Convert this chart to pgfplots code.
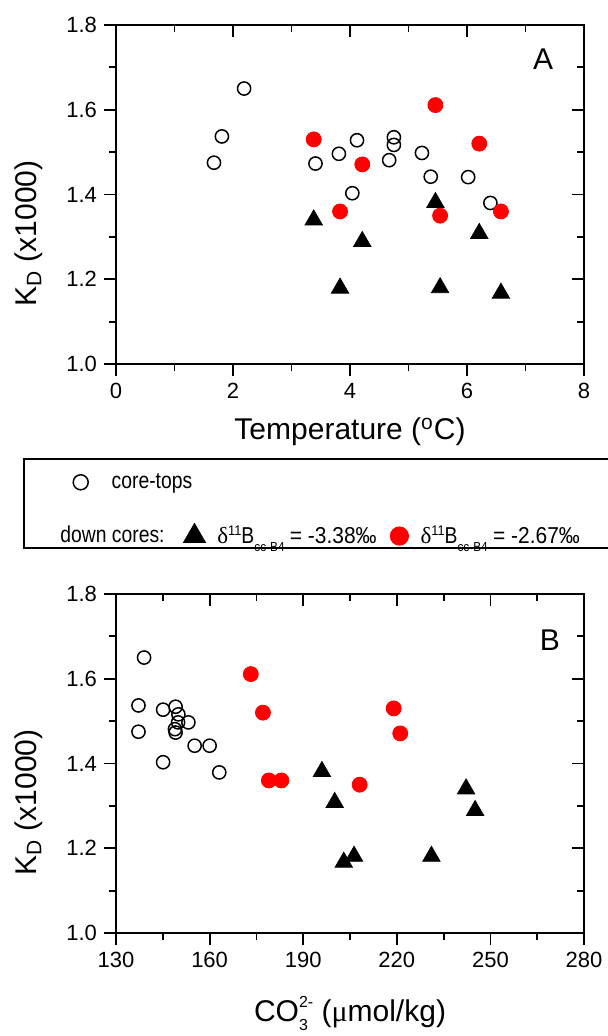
\documentclass[border=0pt]{standalone}
\usepackage{pgfplots}
\pgfplotsset{compat=1.18}
\usepackage{fontspec}
\setmainfont{Liberation Sans}
\newfontfamily\greekserif{Liberation Serif}
\newfontfamily\narrowsans[FakeStretch=0.84]{Liberation Sans}
\newfontfamily\plainsans[FakeStretch=0.91]{Liberation Sans}

\definecolor{dcred}{RGB}{255,0,0}

% delta-11B symbol used in the key
\newcommand\deltaB{{\greekserif\fontsize{11.5}{13}\selectfont δ}\raisebox{4.2pt}{\plainsans\fontsize{7}{8}\selectfont 11}B\raisebox{-4.2pt}{\plainsans\fontsize{6.5}{7}\selectfont cc-B4}}
\newcommand\plainpart[1]{{\plainsans #1}}

\pgfplotsset{
  panel/.style={
    scale only axis, width=234pt, height=169.5pt,
    ymin=1.0, ymax=1.8,
    ytick={1.0,1.2,1.4,1.6,1.8},
    minor ytick={1.1,1.3,1.5,1.7},
    axis line style={line width=0.9pt},
    every tick/.style={line width=0.9pt, black},
    major tick length=6pt, minor tick length=3.5pt,
    tick label style={font=\fontsize{11}{13}\selectfont},
    /pgf/number format/assume math mode=true,
    clip=false,
  },
  lowerticks/.style={panel, tick pos=left, tick align=outside,
    yticklabel style={/pgf/number format/fixed, /pgf/number format/fixed zerofill, /pgf/number format/precision=1},
    label style={font=\fontsize{15}{18}\selectfont},
  },
  upperticks/.style={panel, tick pos=right, tick align=inside,
    xticklabels={}, yticklabels={}},
  dotlegend/.style={legend image code/.code={\draw[##1] plot coordinates {(0pt,0pt)};}},
  coretop/.style={only marks, mark=o, mark size=3.3pt, mark options={line width=0.75pt, fill=white, draw=black}},
  lowdelta/.style={only marks, mark=triangle*, mark size=5pt, black},
  highdelta/.style={only marks, mark=*, mark size=3.75pt, dcred},
  legfont/.style={font=\narrowsans\fontsize{11.5}{13}\selectfont},
}

\begin{document}
\begin{tikzpicture}
\useasboundingbox (0,0) rectangle (304pt,518pt);

% ---------------- panel A: K_D versus temperature ----------------
\begin{axis}[lowerticks, at={(58pt,336pt)}, anchor=south west,
  xmin=0, xmax=8, xtick={0,2,4,6,8}, minor xtick={1,3,5,7},
  xlabel={Temperature (\textsuperscript{o}C)},
  ylabel={K\textsubscript{D} (x1000)},
  xlabel style={at={(axis description cs:0.5,-0.224)}, anchor=base},
  ylabel style={at={(axis description cs:-0.169,0.385)}, anchor=base},
]
\addplot[coretop] coordinates {
  (2.19,1.650) (1.81,1.537) (1.675,1.475) (3.41,1.473) (3.81,1.496)
  (4.12,1.528) (4.04,1.403) (4.75,1.535) (4.75,1.517) (4.67,1.481)
  (5.23,1.498) (5.38,1.442) (6.02,1.441) (6.40,1.380)
};
\addplot[lowdelta] coordinates {
  (3.38,1.340) (5.46,1.381) (4.21,1.289) (6.21,1.308)
  (3.83,1.179) (5.54,1.180) (6.58,1.167)
};
\addplot[highdelta] coordinates {
  (3.38,1.530) (5.46,1.611) (6.21,1.520) (4.21,1.471)
  (3.83,1.360) (5.54,1.350) (6.58,1.360)
};
\node[font=\fontsize{15}{18}\selectfont] at (axis cs:7.3,1.72) {A};
\end{axis}
\begin{axis}[upperticks, at={(58pt,336pt)}, anchor=south west,
  xmin=0, xmax=8, xtick={0,2,4,6,8}, minor xtick={1,3,5,7},
  legend cell align=left,
  legend style={draw=none, fill=none, legfont,
    at={(axis description cs:-0.0923,-0.349)}, anchor=west,
    inner sep=0pt, nodes={inner sep=0pt},
    /tikz/every odd column/.append style={column sep=11.75pt}},
]
\addlegendimage{dotlegend, mark=o, mark size=3.75pt, black, line width=0.75pt}
\addlegendentry{core-tops}
\end{axis}

% ---------------- panel B: K_D versus carbonate ion ----------------
\begin{axis}[lowerticks, at={(58pt,51.5pt)}, anchor=south west,
  xmin=130, xmax=280, xtick={130,160,190,220,250,280},
  minor xtick={145,175,205,235,265},
  xlabel={CO\rlap{\raisebox{-4.5pt}{\fontsize{8}{9}\selectfont 3}}\raisebox{7pt}{\fontsize{8}{9}\selectfont 2-} ({\greekserif μ}mol/kg)},
  ylabel={K\textsubscript{D} (x1000)},
  xlabel style={at={(axis description cs:0.5,-0.2625)}, anchor=base},
  ylabel style={at={(axis description cs:-0.169,0.385)}, anchor=base},
]
\addplot[coretop] coordinates {
  (139.0,1.650) (137.2,1.537) (137.2,1.475) (145.1,1.527) (149.1,1.534)
  (150.0,1.516) (153.2,1.497) (149.9,1.497) (149.1,1.473) (148.9,1.481)
  (155.2,1.442) (160.0,1.442) (145.1,1.403) (163.1,1.379)
};
\addplot[lowdelta] coordinates {
  (242.2,1.340) (196.0,1.381) (245.1,1.289) (200.1,1.308)
  (206.3,1.181) (231.1,1.181) (203.0,1.167)
};
\addplot[highdelta] coordinates {
  (219.0,1.530) (173.2,1.611) (177.1,1.520) (221.1,1.471)
  (179.0,1.360) (208.1,1.350) (183.0,1.360)
};
\node[font=\fontsize{15}{18}\selectfont] at (axis cs:269.1,1.69) {B};
\end{axis}
\begin{axis}[upperticks, at={(58pt,51.5pt)}, anchor=south west,
  xmin=130, xmax=280, xtick={130,160,190,220,250,280},
  minor xtick={145,175,205,235,265},
  legend columns=-1, legend cell align=left,
  legend style={draw=none, fill=none, legfont,
    at={(axis description cs:-0.1453,1.174)}, anchor=west,
    inner sep=0pt, nodes={inner sep=0pt},
    /tikz/every odd column/.append style={column sep=6pt},
    /tikz/every even column/.append style={column sep=6.8pt}},
]
\addlegendimage{empty legend}
\addlegendentry{down cores:\hspace*{2.7pt}}
\addlegendimage{dotlegend, mark=triangle*, mark size=6.3pt, black}
\addlegendentry{\deltaB{} \plainpart{= -3.38‰}}
\addlegendimage{dotlegend, mark=*, mark size=4.6pt, dcred}
\addlegendentry{\deltaB{} \plainpart{= -2.67‰}}
\end{axis}

% frame around the key
\draw[line width=0.75pt] (12pt,244pt) rectangle (330pt,288.5pt);
\end{tikzpicture}
\end{document}
